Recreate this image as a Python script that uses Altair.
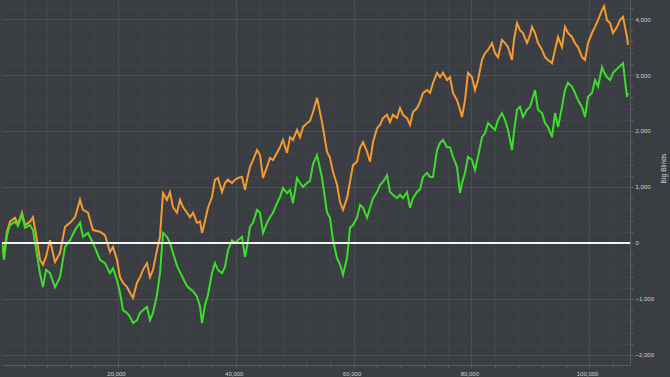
import altair as alt
import pandas as pd

# Hands played (x) and cumulative big blinds for the two series
hands = [300, 640, 1150, 1660, 2510, 3020, 3700, 4210, 5050, 5560, 6240, 6750, 7260, 7770, 8450,
         9300, 10150, 11000, 11850, 12700, 13550, 14060, 14900, 15750, 16940, 17790, 18640, 19150,
         19830, 20340, 20850, 21530, 22040, 22550, 23230, 23740, 24250, 24920, 25430, 25940, 26620,
         27130, 27470, 27640, 28320, 28830, 29340, 30020, 30530, 31040, 31720, 32230, 32740, 33420,
         33930, 34270, 34770, 35280, 35960, 36470, 36980, 37660, 38170, 38680, 39360, 39870, 40380,
         41060, 41570, 41910, 42420, 42930, 43610, 44120, 44630, 45300, 45810, 46320, 47000, 47510,
         48020, 48700, 49210, 49720, 50400, 50910, 51420, 52100, 52610, 53120, 53800, 54650, 55490,
         56000, 56510, 57190, 57700, 58210, 58890, 59400, 59910, 60590, 61100, 61610, 62290, 62800,
         63310, 63990, 64500, 65000, 65680, 66190, 66700, 67380, 67890, 68400, 69080, 69590, 70100,
         70780, 71290, 71800, 72480, 72990, 73500, 74180, 74690, 75190, 75870, 76380, 76890, 77570,
         78080, 78420, 78930, 79440, 80120, 80630, 81140, 81820, 82330, 82840, 83520, 84030, 84540,
         85210, 85720, 86230, 86910, 87250, 87760, 88270, 88780, 89460, 89970, 90310, 90820, 91330,
         92010, 92520, 93030, 93710, 94220, 94730, 95400, 95910, 96420, 97100, 97610, 98120, 98800,
         99310, 99820, 100500, 101010, 101520, 102200, 102540, 103050, 103560, 104070, 104750,
         105250, 105760, 106100, 106440, 106610]

allin_ev = [0, -210, 200, 380, 450, 340, 540, 320, 380, 460, 50, -300, -390, -250, 50,
            -340, -180, 290, 360, 460, 770, 590, 540, 230, 200, 140, -160, -70,
            -300, -610, -710, -790, -890, -980, -710, -610, -480, -360, -610, -480, -130,
            110, 640, 890, 770, 910, 640, 540, 770, 640, 540, 460, 540, 360,
            380, 180, 390, 630, 820, 1130, 1160, 910, 1070, 1130, 1070, 1130, 1160,
            1180, 950, 1130, 1360, 1480, 1660, 1570, 1160, 1360, 1520, 1480, 1610, 1710,
            1840, 1610, 1890, 1840, 2020, 1890, 2070, 2140, 2180, 2340, 2590, 2160, 1630,
            1520, 1270, 1040, 730, 590, 800, 1090, 1390, 1450, 1700, 1800, 1630, 1450,
            1800, 2050, 2110, 2230, 2290, 2160, 2290, 2230, 2410, 2290, 2230, 2110, 2340,
            2410, 2520, 2680, 2730, 2680, 2860, 3040, 2960, 3040, 2910, 2960, 2680, 2550,
            2380, 2250, 2550, 3040, 2960, 2730, 2910, 3270, 3390, 3450, 3570, 3390, 3320,
            3630, 3570, 3500, 3270, 3630, 3930, 3800, 3750, 3570, 3710, 3860, 3750, 3570,
            3450, 3320, 3270, 3210, 3450, 3680, 3500, 3860, 3750, 3680, 3570, 3500, 3320,
            3270, 3570, 3750, 3860, 3980, 4160, 4230, 3980, 3930, 3750, 3860,
            3980, 4040, 3860, 3680, 3540]

net_won = [0, -300, 140, 320, 380, 300, 500, 270, 320, 230, -210, -540, -790, -480, -540,
           -790, -610, -70, 50, 230, 360, 110, 180, 0, -300, -360, -540, -450,
           -660, -890, -1200, -1250, -1320, -1430, -1380, -1250, -1200, -1140, -1380, -1250, -930,
           -540, -70, 180, 110, 0, -180, -410, -520, -630, -770, -820, -860, -960,
           -1140, -1430, -1110, -930, -540, -360, -480, -540, -430, -130, 50, 0, 50,
           110, -250, -70, 290, 360, 590, 540, 180, 360, 460, 540, 710, 820,
           980, 890, 950, 710, 1160, 1070, 1000, 1070, 1110, 1410, 1570, 1160, 550,
           450, 50, -270, -380, -570, -270, 270, 320, 450, 680, 630, 450, 630,
           800, 910, 1040, 1090, 1210, 910, 860, 800, 860, 800, 910, 630, 800,
           910, 960, 1180, 1250, 1180, 1180, 1660, 1790, 1840, 1710, 1710, 1540, 1360,
           890, 1070, 1250, 1540, 1480, 1300, 1540, 1890, 1960, 2140, 2070, 2020, 2200,
           2320, 2200, 2020, 1660, 1980, 2380, 2430, 2250, 2380, 2430, 2550, 2730, 2380,
           2320, 2140, 2070, 1890, 2320, 2070, 2430, 2730, 2860, 2790, 2680, 2550, 2430,
           2250, 2610, 2680, 2910, 2790, 3140, 3050, 2960, 2910, 3040, 3110,
           3160, 3210, 2910, 2610, 2680]

# Axis ticks (minor + major) and labels
y_ticks = list(range(-2000, 4201, 200))
x_ticks = list(range(4000, 106001, 4000))
zero_line = [0]

BG = "#3a3d42"
ORANGE = "#f39a33"
GREEN = "#3ade2b"
FONT = "Liberation Sans"

df = pd.DataFrame({"hands": hands, "allin": allin_ev, "net": net_won})

x_scale = alt.Scale(domain=[300, 106950], nice=False, zero=False)
y_scale = alt.Scale(domain=[-2180, 4340], nice=False, zero=False)

x_axis = alt.Axis(
    values=x_ticks, format=",", title=None, orient="bottom",
    labelExpr="datum.value % 20000 === 0 ? format(datum.value, ',') : ''",
    labelOverlap=False, labelFont=FONT, labelFontSize=6, labelColor="#d0d0d0",
    labelPadding=2, labelOffset=-2,
    tickSize=3, tickColor="#5c5f64",
    domainColor="#585b60", domainWidth=1,
    grid=True,
    gridColor={"condition": {"test": "datum.value % 20000 === 0", "value": "#4b4e53"}, "value": "#404348"},
)

y_axis = alt.Axis(
    values=y_ticks, format=",", title="Big Blinds", orient="right",
    labelExpr="datum.value % 1000 === 0 ? format(datum.value, ',') : ''",
    labelOverlap=False, labelFont=FONT, labelFontSize=6, labelColor="#d0d0d0",
    labelPadding=2,
    tickSize=3, tickColor="#5c5f64",
    domainColor="#585b60", domainWidth=1,
    grid=True,
    gridColor={"condition": {"test": "datum.value % 1000 === 0", "value": "#4b4e53"}, "value": "#404348"},
    titleFont=FONT, titleFontSize=6.7, titleFontWeight="normal", titleColor="#d0d0d0",
    titleAngle=270, titleX=33, titleY=168, titleAlign="center", titleBaseline="middle",
)

base = alt.Chart(df)

orange = base.mark_line(color=ORANGE, strokeWidth=2, clip=True).encode(
    x=alt.X("hands:Q", scale=x_scale, axis=x_axis),
    y=alt.Y("allin:Q", scale=y_scale, axis=y_axis),
)

green = base.mark_line(color=GREEN, strokeWidth=2, clip=True).encode(
    x=alt.X("hands:Q", scale=x_scale, axis=x_axis),
    y=alt.Y("net:Q", scale=y_scale, axis=y_axis),
)

zero = alt.Chart(pd.DataFrame({"bb": zero_line})).mark_rule(color="#f4f4f4", strokeWidth=2).encode(
    y=alt.Y("bb:Q", scale=y_scale, axis=y_axis)
)

chart = alt.layer(orange, green, zero).properties(
    width=628, height=365, background=BG,
    padding={"left": 2, "top": 0, "right": 40, "bottom": 12},
    autosize=alt.AutoSizeParams(type="none"),
).configure_view(stroke=None, fill=BG)

chart.save("out.html", embed_options={"renderer": "svg", "actions": False})
